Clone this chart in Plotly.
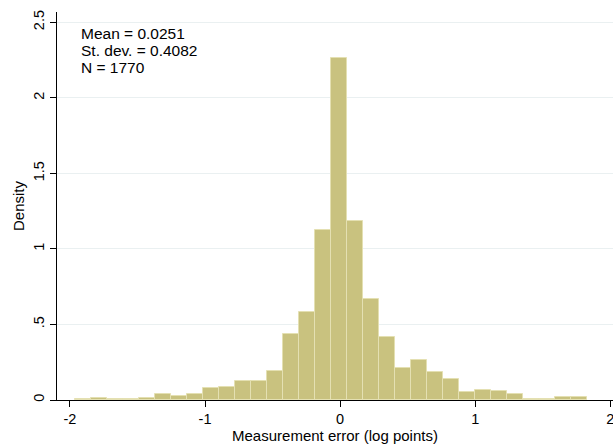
import plotly.graph_objects as go

# Histogram of measurement error (32 equal-width bins), density scale
bin_start = -1.9615
bin_width = 0.1185
density = [0.0048, 0.0143, 0.0048, 0.0048, 0.0143, 0.0429, 0.0238, 0.0381,
           0.0810, 0.0858, 0.1263, 0.1287, 0.1907, 0.4338, 0.5816, 1.1251,
           2.2645, 1.1870, 0.6674, 0.4195, 0.2145, 0.2670, 0.1859, 0.1383,
           0.0524, 0.0667, 0.0620, 0.0429, 0.0095, 0.0048, 0.0191, 0.0191]
centers = [bin_start + bin_width * (i + 0.5) for i in range(len(density))]

x_ticks = [-2, -1, 0, 1, 2]
y_ticks = [0, 0.5, 1, 1.5, 2, 2.5]
y_ticktext = ["0", ".5", "1", "1.5", "2", "2.5"]
stats_lines = ["Mean = 0.0251", "St. dev. = 0.4082", "N = 1770"]

FONT = "Liberation Sans, Arial, sans-serif"

fig = go.Figure()
fig.add_trace(go.Bar(
    x=centers, y=density, width=[bin_width] * len(density),
    marker=dict(color="#c9c27f", line=dict(color="#e4e0b2", width=1)),
    hoverinfo="skip",
))

# white box behind the statistics text (covers the top gridline)
fig.add_shape(type="rect", xref="x", yref="paper",
              x0=-2.0, x1=-0.977, y0=0.83, y1=0.985,
              fillcolor="white", line=dict(width=0), layer="between")

for i, t in enumerate(stats_lines):
    fig.add_annotation(
        x=-1.93, y=0.944 - i * 0.0438, xref="x", yref="paper",
        text=t, showarrow=False, xanchor="left", yanchor="middle",
        font=dict(family=FONT, size=15.5, color="black"),
    )

fig.update_layout(
    width=613, height=444,
    margin=dict(l=57, r=0, t=12, b=44),
    paper_bgcolor="white", plot_bgcolor="white",
    showlegend=False, bargap=0,
    font=dict(family=FONT, color="black"),
)
fig.update_xaxes(
    range=[-2.096, 2.02], tickvals=x_ticks, ticktext=[str(v) for v in x_ticks],
    showline=True, linecolor="black", linewidth=1,
    ticks="outside", ticklen=6, tickcolor="black", tickwidth=1,
    showgrid=False, zeroline=False, ticklabeloverflow="allow",
    tickfont=dict(family=FONT, size=14.5, color="black"),
    title=dict(text="Measurement error (log points)", standoff=4,
               font=dict(family=FONT, size=15, color="black")),
)
fig.update_yaxes(
    range=[0, 2.568], tickvals=y_ticks, ticktext=y_ticktext, tickangle=-90,
    showline=True, linecolor="black", linewidth=1,
    ticks="outside", ticklen=6, tickcolor="black", tickwidth=1,
    showgrid=True, gridcolor="#eaf0f1", gridwidth=1, zeroline=False,
    tickfont=dict(family=FONT, size=14.5, color="black"),
    title=dict(text="Density", standoff=2,
               font=dict(family=FONT, size=15, color="black")),
)

fig.write_html("out.html")
